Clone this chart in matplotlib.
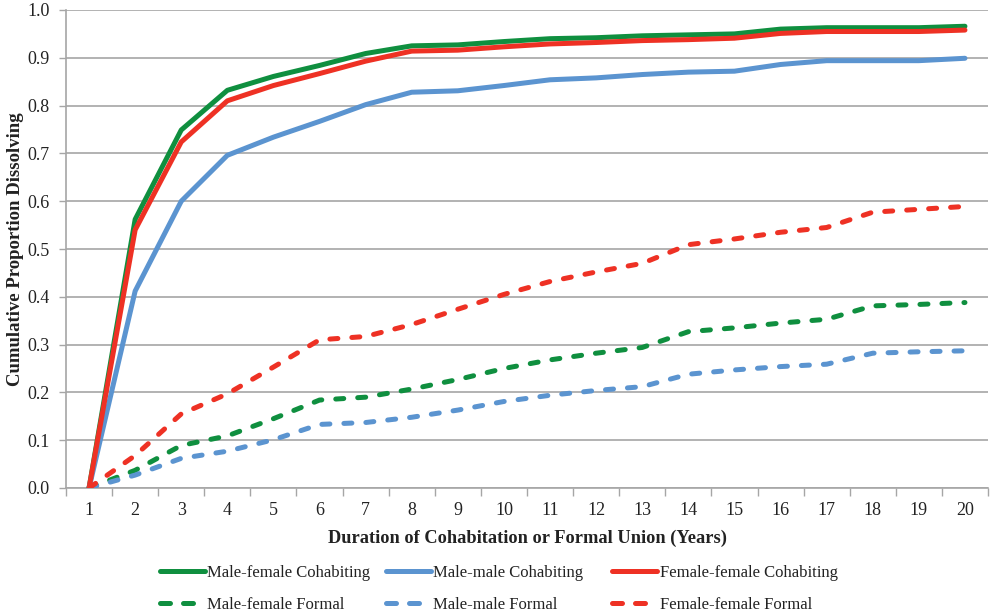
import matplotlib
matplotlib.use("Agg")
import matplotlib.pyplot as plt
from matplotlib.lines import Line2D

years = list(range(1, 21))
year_labels = [str(y) for y in years]

mf_cohab = [0.0, 0.562, 0.749, 0.832, 0.861, 0.884, 0.909, 0.925, 0.927, 0.934,
            0.940, 0.942, 0.946, 0.948, 0.950, 0.960, 0.963, 0.963, 0.963, 0.966]
mm_cohab = [0.0, 0.412, 0.600, 0.696, 0.734, 0.767, 0.802, 0.828, 0.831, 0.842,
            0.854, 0.858, 0.865, 0.870, 0.872, 0.886, 0.894, 0.894, 0.894, 0.899]
ff_cohab = [0.0, 0.540, 0.724, 0.810, 0.842, 0.867, 0.893, 0.914, 0.916, 0.923,
            0.929, 0.932, 0.936, 0.938, 0.941, 0.951, 0.955, 0.955, 0.955, 0.958]
mf_formal = [0.0, 0.037, 0.089, 0.109, 0.145, 0.184, 0.190, 0.207, 0.227, 0.250,
             0.268, 0.282, 0.294, 0.327, 0.335, 0.345, 0.353, 0.381, 0.384, 0.388]
mm_formal = [0.0, 0.027, 0.062, 0.077, 0.101, 0.133, 0.137, 0.148, 0.163, 0.181,
             0.194, 0.204, 0.212, 0.238, 0.247, 0.254, 0.259, 0.282, 0.285, 0.287]
ff_formal = [0.0, 0.068, 0.155, 0.197, 0.253, 0.310, 0.317, 0.342, 0.374, 0.405,
             0.432, 0.452, 0.470, 0.509, 0.521, 0.535, 0.545, 0.577, 0.583, 0.589]

labels = ["Male-female Cohabiting", "Male-male Cohabiting", "Female-female Cohabiting",
          "Male-female Formal", "Male-male Formal", "Female-female Formal"]

GREEN = "#0f8f3f"
BLUE = "#5b94d0"
RED = "#ee3124"
GRID = "#a6a6a6"
TXT = "#222222"

plt.rcParams['font.family'] = ['Liberation Serif', 'DejaVu Serif']

fig = plt.figure(figsize=(9.95, 6.16), dpi=100)
ax = fig.add_axes([66/995, 128/616, 922/995, 478/616])

LW = 3.6
dash = (1.6, 2.8)
series = [
    (mf_cohab, GREEN, '-'), (mm_cohab, BLUE, '-'), (ff_cohab, RED, '-'),
    (mf_formal, GREEN, '--'), (mm_formal, BLUE, '--'), (ff_formal, RED, '--'),
]
handles = []
for (vals, col, ls), lab in zip(series, labels):
    if ls == '-':
        ax.plot(years, vals, color=col, lw=LW, solid_capstyle='round',
                solid_joinstyle='round', label=lab, zorder=3)
        h = Line2D([], [], color=col, lw=LW, solid_capstyle='round')
    else:
        ax.plot(years, vals, color=col, lw=LW, dashes=dash,
                dash_capstyle='round', dash_joinstyle='round', label=lab, zorder=3)
        h = Line2D([], [], color=col, lw=LW, dashes=(2.0, 2.6), dash_capstyle='round')
    handles.append(h)

ax.set_xlim(0.5, 20.5)
ax.set_ylim(0, 1.0)
ax.set_xticks(years)
ax.set_xticklabels(year_labels)
ax.set_xticks([x + 0.5 for x in range(0, 21)], minor=True)
ax.set_yticks([i / 10 for i in range(11)])
ax.set_yticklabels([f"{i/10:.1f}" for i in range(11)])

ax.tick_params(axis='x', which='major', length=0, pad=10, labelsize=13, colors=TXT)
ax.tick_params(axis='x', which='minor', length=6, width=1, color=GRID, direction='out')
ax.tick_params(axis='y', which='major', length=5, width=1, color=GRID, direction='out',
               pad=7, labelsize=13, labelcolor=TXT)

ax.grid(axis='y', color=GRID, lw=1.2, zorder=0)
ax.set_axisbelow(True)
for s in ['top', 'right']:
    ax.spines[s].set_visible(False)
for s in ['left', 'bottom']:
    ax.spines[s].set_color(GRID)
    ax.spines[s].set_linewidth(1.2)

ax.set_ylabel("Cumulative Proportion Dissolving", fontsize=13.5, fontweight='bold',
              color=TXT, va='center', ha='center')
ax.yaxis.set_label_coords((15 - 66) / 922, 0.5)
ax.set_xlabel("Duration of Cohabitation or Formal Union (Years)", fontsize=13.2,
              fontweight='bold', color=TXT, labelpad=8)

col_x = [160/995, 386/995, 612/995]
for i in range(3):
    leg = fig.legend([handles[i], handles[i + 3]], [labels[i], labels[i + 3]],
                     loc='upper left', bbox_to_anchor=(col_x[i], 1 - 565/616),
                     ncol=1, frameon=False, fontsize=12, handlelength=2.7,
                     handletextpad=0.15, labelspacing=0.95, borderaxespad=0,
                     borderpad=0)
    for t in leg.get_texts():
        t.set_color(TXT)

fig.savefig("out.png", dpi=100)
